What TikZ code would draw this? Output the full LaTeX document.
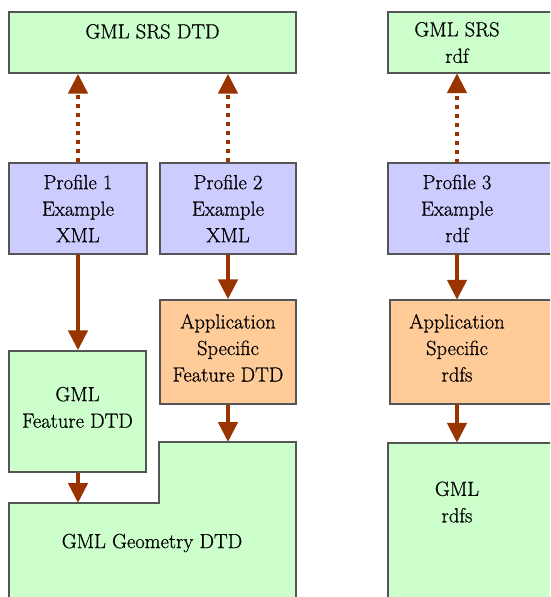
\documentclass[tikz,border=0pt]{standalone}
\usepackage{fontspec}
\setmainfont{lmroman17-regular.otf}[FakeBold=0.7]
\usetikzlibrary{positioning,arrows.meta}

\definecolor{gmlgreen}{RGB}{204,255,204}
\definecolor{proflilac}{RGB}{204,204,255}
\definecolor{apporange}{RGB}{255,204,153}
\definecolor{linkbrown}{RGB}{153,51,0}
\definecolor{edgegrey}{RGB}{85,85,85}

\tikzset{
    box/.style={draw=edgegrey, line width=1.4pt, align=center, inner sep=0pt},
    gmlbox/.style={box, fill=gmlgreen},
    profbox/.style={box, fill=proflilac},
    appbox/.style={box, fill=apporange},
    uses/.style={linkbrown, line width=4.5pt, -{Triangle[length=20pt,width=19pt]}},
    refers/.style={uses, dash pattern=on 4pt off 5pt},
}

\begin{document}
\begin{tikzpicture}[x=1pt, y=-1pt, font=\fontsize{20.5}{26.5}\selectfont]
    \useasboundingbox (0,0) rectangle (550,597);
    \clip (0,0) rectangle (550,597);

    % SRS row
    \node[gmlbox, minimum width=287pt, minimum height=61pt] (srsdtd) at (152.5,42.5) {GML SRS DTD\\[-4pt] \mbox{}};
    \draw[gmlbox] (388,12) rectangle (580,73);
    \node[minimum width=138pt, minimum height=61pt, align=center] (srsrdf) at (457,42.5) {GML SRS\\rdf};

    % Profiles
    \node[profbox, minimum width=138pt, minimum height=91pt] (prof1) at (78,208.5) {Profile 1\\Example\\XML};
    \node[profbox, minimum width=136pt, minimum height=91pt] (prof2) at (228,208.5) {Profile 2\\Example\\XML};
    \draw[profbox] (388,163) rectangle (580,254);
    \node[minimum width=138pt, minimum height=91pt, align=center] (prof3) at (457,208.5) {Profile 3\\Example\\rdf};

    % Application specific
    \node[appbox, minimum width=136pt, minimum height=104pt] (appfeat) at (228,352) {Application\\Specific\\Feature DTD\\[-18pt] \mbox{}};
    \draw[appbox] (390,300) rectangle (580,404);
    \node[minimum width=134pt, minimum height=104pt, align=center] (apprdfs) at (457,352) {Application\\Specific\\rdfs\\[-18pt] \mbox{}};

    % GML base schemas
    \node[gmlbox, minimum width=137pt, minimum height=121pt] (feat) at (77.5,411.5) {GML\\Feature DTD\\[-18pt] \mbox{}};
    \draw[gmlbox] (9,640) -- (9,503) -- (159,503) -- (159,442) -- (296,442) -- (296,640);
    \node (geom) at (152,543) {GML Geometry DTD};
    \coordinate (geomleft) at (78,503);
    \coordinate (geomright) at (228,442);
    \draw[gmlbox] (388,443) rectangle (580,640);
    \node[minimum width=138pt, minimum height=118pt, align=center] (rdfs) at (457,502) {GML\\rdfs};

    % Links
    \draw[refers] (prof1.north) -- (prof1.north |- srsdtd.south);
    \draw[refers] (prof2.north) -- (prof2.north |- srsdtd.south);
    \draw[refers] (prof3.north) -- (srsrdf.south);
    \draw[uses] (prof1.south) -- (prof1.south |- feat.north);
    \draw[uses] (prof2.south) -- (appfeat.north);
    \draw[uses] (prof3.south) -- (apprdfs.north);
    \draw[uses] (appfeat.south) -- (geomright);
    \draw[uses] (apprdfs.south) -- (rdfs.north);
    \draw[uses] (feat.south -| geomleft) -- (geomleft);

\end{tikzpicture}
\end{document}
